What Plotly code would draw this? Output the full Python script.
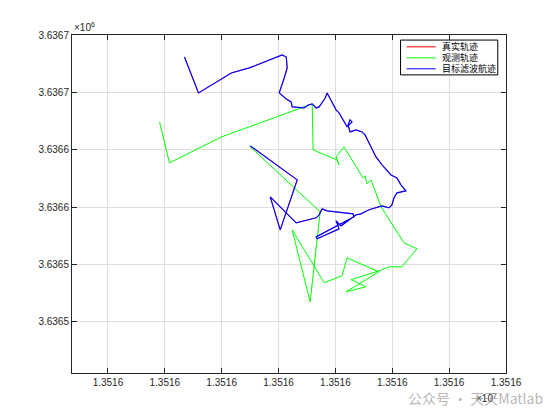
import plotly.graph_objects as go

# 目标滤波航迹 (blue) -- 真实轨迹 lies underneath it
x_filter = [13515925.2, 13515966.4, 13515951.5, 13515942.7, 13515965.5, 13515983.1, 13515985.7,
            13515988.3, 13515992.7, 13516015.5, 13516016.4, 13515983.1, 13515984.0, 13516003.2,
            13516000.6, 13516005.0, 13516018.2, 13516022.5, 13516029.6, 13516041.0, 13516047.1,
            13516049.7, 13516051.5, 13516054.1, 13516062.0, 13516057.6, 13516054.1, 13516048.9,
            13516041.0, 13516035.7, 13516029.6, 13516026.1, 13516023.4, 13516018.2, 13516012.9,
            13516011.1, 13516012.9, 13516014.6, 13516010.3, 13516007.6, 13516003.2, 13516000.6,
            13515996.2, 13515992.7, 13515991.0, 13515988.3, 13515985.7, 13515983.1, 13515979.6,
            13515976.1, 13515972.5, 13515962.0, 13515961.1, 13515956.8, 13515953.2, 13515950.6,
            13515955.0, 13515957.6, 13515956.8, 13515953.2, 13515924.3, 13515908.5, 13515879.6,
            13515867.3]
y_filter = [3636603.3, 3636573.7, 3636530.1, 3636558.9, 3636536.2, 3636540.6, 3636543.2,
            3636548.4, 3636546.7, 3636544.1, 3636541.5, 3636524.0, 3636522.3, 3636531.0,
            3636538.0, 3636533.6, 3636543.2, 3636544.1, 3636547.6, 3636551.0, 3636549.3,
            3636551.9, 3636558.0, 3636562.4, 3636564.1, 3636569.3, 3636575.4, 3636578.0,
            3636586.8, 3636593.7, 3636605.9, 3636612.9, 3636615.5, 3636617.2, 3636615.5,
            3636621.6, 3636626.0, 3636624.2, 3636619.9, 3636624.2, 3636632.1, 3636634.7,
            3636643.4, 3636649.5, 3636645.1, 3636641.6, 3636637.3, 3636636.4, 3636639.9,
            3636639.0, 3636636.4, 3636637.3, 3636641.6, 3636644.2, 3636646.9, 3636649.5,
            3636662.5, 3636671.3, 3636680.8, 3636682.6, 3636671.3, 3636666.9, 3636649.5,
            3636680.8]

# 观测轨迹 (green)
x_obs = [13515845.4, 13515854.1, 13515899.7, 13515979.6, 13515980.4, 13516001.5, 13516003.2,
         13516000.6, 13516007.6, 13516020.8, 13516024.3, 13516026.1, 13516027.8, 13516031.3,
         13516040.1, 13516060.3, 13516071.7, 13516058.5, 13516047.1, 13516041.0, 13516013.8,
         13516026.9, 13516009.4, 13516033.9, 13516038.3, 13516010.3, 13516005.9, 13515990.1,
         13515962.0, 13515977.8, 13515986.6, 13515924.3]
y_obs = [3636624.2, 3636588.5, 3636611.1, 3636639.9, 3636599.8, 3636591.1, 3636586.8,
         3636593.7, 3636602.4, 3636580.7, 3636575.4, 3636577.2, 3636570.2, 3636573.7,
         3636550.2, 3636518.8, 3636513.6, 3636497.9, 3636497.9, 3636495.3, 3636486.6,
         3636480.5, 3636476.1, 3636490.9, 3636493.5, 3636505.7, 3636490.1, 3636484.0,
         3636530.1, 3636467.4, 3636545.8, 3636603.3]

# 真实轨迹 (red) is covered by the filtered track
x_true = x_filter
y_true = y_filter

x_ticks = [13515800, 13515850, 13515900, 13515950, 13516000, 13516050, 13516100, 13516150]
y_ticks = [3636450, 3636500, 3636550, 3636600, 3636650, 3636700]

names = ["真实轨迹", "观测轨迹", "目标滤波航迹"]
colors = ["rgb(255,0,0)", "rgb(0,255,0)", "rgb(0,0,255)"]
widths = [0.6, 1, 1.2]


def label(v, scale):
    # MATLAB style: 4 decimals of the scaled value, round half up
    return f"{int(v / scale * 1e4 + 0.5) / 1e4:.4f}"


font = "Liberation Sans, Arial, Noto Sans CJK SC, sans-serif"
cjk = "Noto Sans CJK SC, sans-serif"

fig = go.Figure()
for xs, ys, name, color, w in zip([x_true, x_obs, x_filter], [y_true, y_obs, y_filter],
                                  names, colors, widths):
    fig.add_trace(go.Scatter(x=xs, y=ys, mode="lines", name=name,
                             line=dict(color=color, width=w)))

fig.update_layout(
    width=552, height=412,
    margin=dict(l=64, r=54, t=27, b=47),
    paper_bgcolor="white", plot_bgcolor="white",
    font=dict(family=font, size=10, color="#262626"),
    showlegend=False,
)
axis_style = dict(
    showgrid=True, gridcolor="#dedede", gridwidth=1, zeroline=False,
    showline=True, linecolor="#262626", linewidth=1, mirror="ticks",
    ticks="inside", ticklen=5, tickcolor="#262626",
)
fig.update_xaxes(range=[13515768.4, 13516150], tickvals=x_ticks,
                 ticktext=[label(v, 1e7) for v in x_ticks], **axis_style)
fig.update_yaxes(range=[3636405.3, 3636700], tickvals=y_ticks,
                 ticktext=[label(v, 1e6) for v in y_ticks], **axis_style)

# compact MATLAB-like legend box
fig.add_shape(type="rect", xref="paper", yref="paper", x0=0.757, x1=0.981, y0=0.882, y1=0.985,
              line=dict(color="black", width=1), fillcolor="white", layer="above")
for i, (name, color) in enumerate(zip(names, colors)):
    ly = 0.965 - i * 0.0325
    fig.add_shape(type="line", xref="paper", yref="paper", x0=0.771, x1=0.838, y0=ly, y1=ly,
                  line=dict(color=color, width=1), layer="above")
    fig.add_annotation(x=0.847, y=ly, xref="paper", yref="paper", xanchor="left", yanchor="middle",
                       text=name, showarrow=False, font=dict(family=cjk, size=9, color="black"),
                       height=11, valign="middle")

fig.add_annotation(x=0, y=1, xref="paper", yref="paper", xanchor="left", yanchor="bottom",
                   text="×10<sup>6</sup>", showarrow=False, font=dict(size=10, color="#262626"))
fig.add_annotation(x=0.985, y=-0.073, xref="paper", yref="paper", xanchor="right", yanchor="middle",
                   text="×10<sup>7</sup>", showarrow=False, font=dict(size=10, color="#262626"))
fig.add_annotation(x=1.089, y=-0.073, xref="paper", yref="paper", xanchor="right", yanchor="middle",
                   text="公众号 · 天天Matlab", showarrow=False,
                   font=dict(family=cjk, size=14, color="rgba(150,150,150,0.7)"))

fig.write_html("out.html")
